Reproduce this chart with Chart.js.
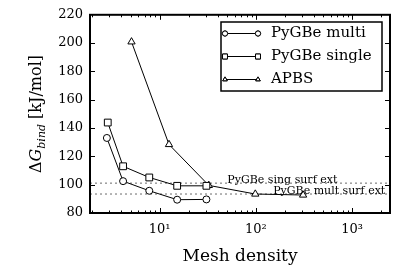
<!DOCTYPE html>
<html>
<head>
<meta charset="utf-8">
<script src="https://cdn.jsdelivr.net/npm/chart.js@4"></script>
<style>
  html, body { margin: 0; padding: 0; background: #fff; }
  canvas { display: block; }
</style>
</head>
<body>
<canvas id="meshChart" width="407" height="271"></canvas>
<script>
// values
const multiX  = [2.83, 4.17, 7.8, 15.2, 30.6];
const multiY  = [133, 102.5, 95.7, 89.4, 89.6];
const singleX = [2.89, 4.17, 7.8, 15.2, 30.6];
const singleY = [143.9, 113, 105.1, 99.2, 99.2];
const apbsX   = [5.1, 12.5, 32.4, 98.5, 309];
const apbsY   = [200.9, 128.4, 99.5, 93.4, 92.7];

const refSing = 101.1;   // PyGBe single surface extrapolation
const refMult = 93.4;    // PyGBe multi surface extrapolation
const refLabels = [
    { text: 'PyGBe sing surf ext', x: 50.5, y: refSing },
    { text: 'PyGBe mult surf ext', x: 151, y: refMult }
];

const xMin = 1.89, xMax = 2470;
const yMin = 80, yMax = 220, yStep = 20;
const xMajor = [10, 100, 1000];
const xTickText = { 10: '10\u00B9', 100: '10\u00B2', 1000: '10\u00B3' };

const serif = "'DejaVu Serif', serif";

function pts(xs, ys) {
    return xs.map((x, i) => ({ x: x, y: ys[i] }));
}

function series(label, xs, ys, style, r) {
    return {
        label: label,
        data: pts(xs, ys),
        showLine: true,
        borderColor: '#000',
        borderWidth: 1,
        backgroundColor: '#fff',
        pointStyle: style,
        pointRadius: r,
        pointBorderWidth: 1,
        pointBackgroundColor: '#fff',
        pointBorderColor: '#000',
        order: 1
    };
}

function refLine(y) {
    return {
        label: '',
        data: [{ x: xMin, y: y }, { x: xMax, y: y }],
        showLine: true,
        borderColor: '#444',
        borderWidth: 0.8,
        borderDash: [2, 3],
        pointRadius: 0,
        order: 5,
        isRef: true
    };
}

// draws frame, inward ticks, axis titles, reference labels and legend
const decor = {
    id: 'decor',
    afterDatasetsDraw(chart) {
        const ctx = chart.ctx;
        const a = chart.chartArea;
        const xs = chart.scales.x, ys = chart.scales.y;
        ctx.save();

        // reference labels
        ctx.fillStyle = '#000';
        ctx.font = '11px ' + serif;
        ctx.textAlign = 'left';
        ctx.textBaseline = 'alphabetic';
        refLabels.forEach(l => {
            ctx.fillText(l.text, xs.getPixelForValue(l.x), ys.getPixelForValue(l.y));
        });

        // inward ticks
        ctx.strokeStyle = '#000';
        ctx.lineWidth = 1;
        ctx.beginPath();
        for (let v = yMin + yStep; v < yMax; v += yStep) {
            const py = Math.round(ys.getPixelForValue(v)) + 0.5;
            ctx.moveTo(a.left, py); ctx.lineTo(a.left + 5, py);
            ctx.moveTo(a.right, py); ctx.lineTo(a.right - 5, py);
        }
        for (let e = 0; e <= 3; e++) {
            for (let m = 1; m <= 9; m++) {
                const v = m * Math.pow(10, e);
                if (v <= xMin || v >= xMax) continue;
                const px = Math.round(xs.getPixelForValue(v)) + 0.5;
                const len = m === 1 ? 5 : 2.5;
                ctx.moveTo(px, a.bottom); ctx.lineTo(px, a.bottom - len);
                ctx.moveTo(px, a.top); ctx.lineTo(px, a.top + len);
            }
        }
        ctx.stroke();

        // frame
        ctx.lineWidth = 2;
        ctx.strokeRect(a.left, a.top, a.right - a.left, a.bottom - a.top);
        ctx.restore();
    },
    afterDraw(chart) {
        const ctx = chart.ctx;
        const a = chart.chartArea;
        ctx.save();
        ctx.fillStyle = '#000';

        // x title
        ctx.font = '17px ' + serif;
        ctx.textAlign = 'center';
        ctx.textBaseline = 'alphabetic';
        ctx.fillText('Mesh density', (a.left + a.right) / 2, 261);

        // y title: ΔG_bind [kJ/mol]
        ctx.translate(41, 114);
        ctx.rotate(-Math.PI / 2);
        const big = '16px ' + serif, bigIt = 'italic 16px ' + serif, sub = 'italic 11px ' + serif;
        const parts = [
            { t: '\u0394', f: big, dy: 0 },
            { t: 'G', f: bigIt, dy: 0 },
            { t: 'bind', f: sub, dy: 4 },
            { t: ' [kJ/mol]', f: big, dy: 0 }
        ];
        let total = 0;
        parts.forEach(p => { ctx.font = p.f; p.w = ctx.measureText(p.t).width; total += p.w; });
        let cx = -total / 2;
        ctx.textAlign = 'left';
        parts.forEach(p => {
            ctx.font = p.f;
            ctx.fillText(p.t, cx, p.dy);
            cx += p.w;
        });
        ctx.setTransform(1, 0, 0, 1, 0, 0);

        // legend
        const box = { x: 221, y: 22, w: 161, h: 69 };
        ctx.fillStyle = '#fff';
        ctx.fillRect(box.x, box.y, box.w, box.h);
        ctx.strokeStyle = '#000';
        ctx.lineWidth = 1.5;
        ctx.strokeRect(box.x, box.y, box.w, box.h);
        const items = chart.data.datasets.filter(d => !d.isRef);
        items.forEach((d, i) => {
            const y = 33.5 + i * 23;
            ctx.lineWidth = 1;
            ctx.strokeStyle = '#000';
            ctx.beginPath();
            ctx.moveTo(225, y); ctx.lineTo(258, y);
            ctx.stroke();
            [225, 258].forEach(px => {
                Chart.helpers.drawPoint(ctx, {
                    pointStyle: d.pointStyle, radius: d.pointStyle === 'rect' ? 3.5 : 2.6,
                    rotation: 0, borderWidth: 1
                }, px, y);
                ctx.fillStyle = '#fff';
                ctx.fill();
                ctx.stroke();
            });
            ctx.fillStyle = '#000';
            ctx.font = '15px ' + serif;
            ctx.textAlign = 'left';
            ctx.textBaseline = 'middle';
            ctx.fillText(d.label, 271, y);
        });
        ctx.restore();
    }
};

new Chart(document.getElementById('meshChart'), {
    type: 'scatter',
    data: {
        datasets: [
            series('PyGBe multi', multiX, multiY, 'circle', 3.5),
            series('PyGBe single', singleX, singleY, 'rect', 4.8),
            series('APBS', apbsX, apbsY, 'triangle', 4.2),
            refLine(refSing),
            refLine(refMult)
        ]
    },
    options: {
        responsive: false,
        animation: false,
        devicePixelRatio: 1,
        layout: { padding: { left: 0, right: 17, top: 14, bottom: 0 } },
        plugins: {
            legend: { display: false },
            tooltip: { enabled: false }
        },
        scales: {
            x: {
                type: 'logarithmic',
                min: xMin,
                max: xMax,
                grid: { display: false, drawTicks: false },
                border: { display: false },
                afterBuildTicks: (s) => { s.ticks = xMajor.map(v => ({ value: v })); },
                afterFit: (s) => { s.height = 58; },
                ticks: {
                    autoSkip: false,
                    maxRotation: 0,
                    padding: 9,
                    color: '#000',
                    font: { family: serif, size: 13 },
                    callback: (v) => xTickText[v] || ''
                }
            },
            y: {
                min: yMin,
                max: yMax,
                grid: { display: false, drawTicks: false },
                border: { display: false },
                afterFit: (s) => { s.width = 90; },
                ticks: {
                    stepSize: yStep,
                    padding: 7,
                    color: '#000',
                    font: { family: serif, size: 13 }
                }
            }
        }
    },
    plugins: [decor]
});
</script>
</body>
</html>
